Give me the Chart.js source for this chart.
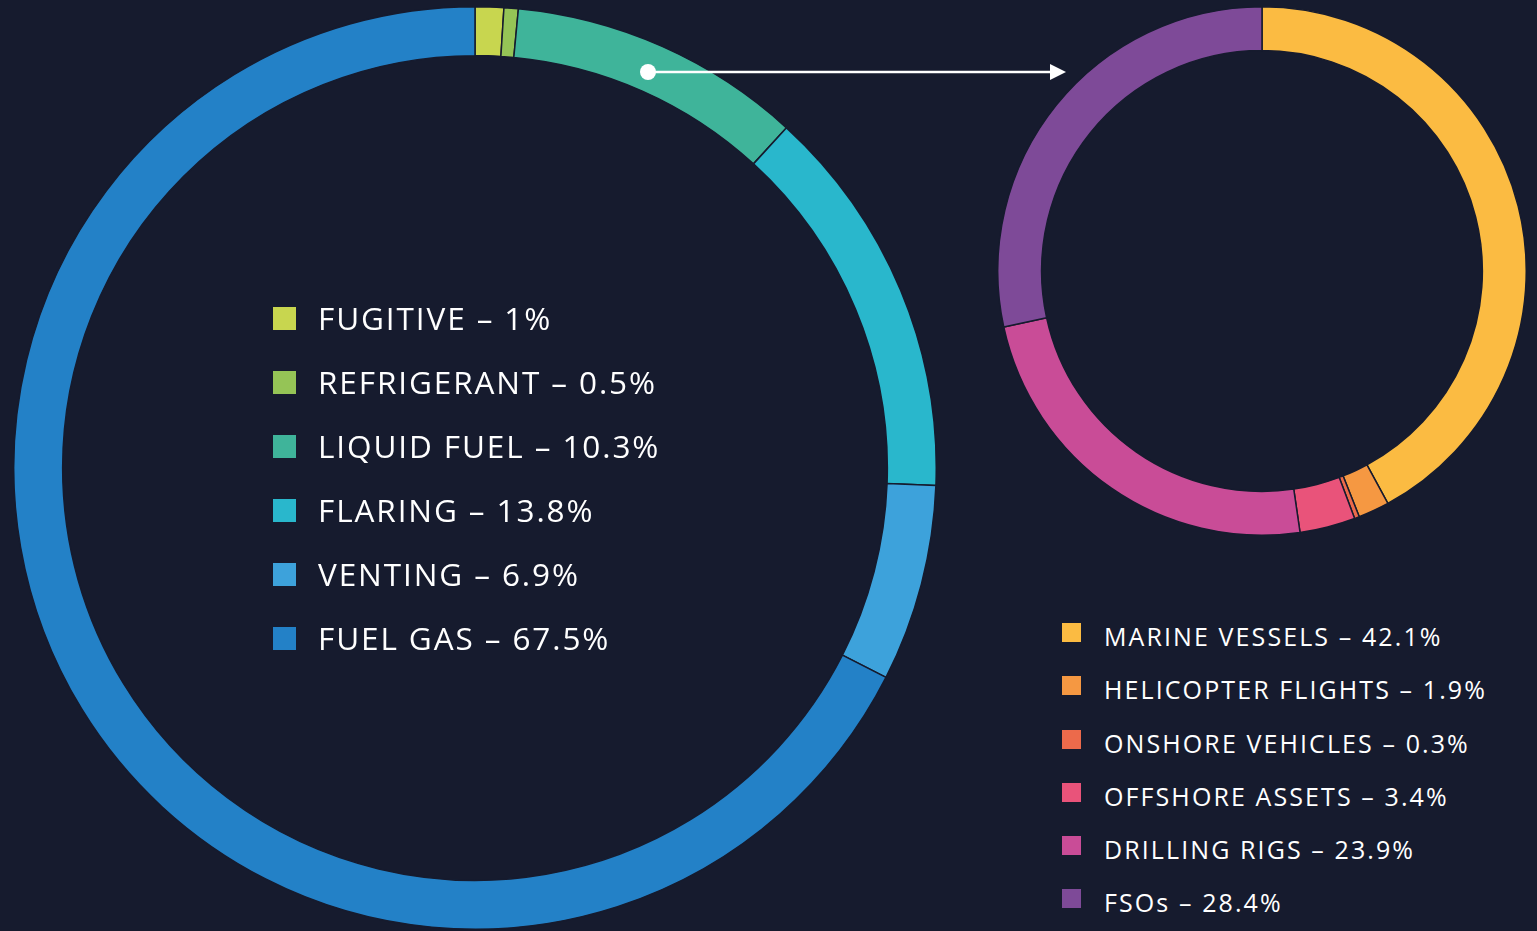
<!DOCTYPE html>
<html>
<head>
<meta charset="utf-8">
<script src="https://cdn.jsdelivr.net/npm/chart.js@4/dist/chart.umd.min.js"></script>
<style>
  html, body { margin: 0; padding: 0; background: #161b2e; }
  body { width: 1537px; height: 931px; position: relative; overflow: hidden; font-family: "Open Sans", sans-serif; color: #fff; }
  canvas { position: absolute; }
  #big { left: 13px; top: 6px; }
  #small { left: 997px; top: 6px; }
  .legend { position: absolute; margin: 0; padding: 0; list-style: none; }
  .legend li { position: relative; white-space: nowrap; }
  .legend span.sw { position: absolute; left: 0; }
  #bigLegend { left: 273px; top: 299px; font-size: 31.5px; }
  #bigLegend li { height: 64px; line-height: 38px; padding-left: 45px; letter-spacing: 1.9px; }
  #bigLegend span.sw { width: 23px; height: 23px; top: 8px; }
  #smallLegend { left: 1062px; top: 621px; font-size: 25px; }
  #smallLegend li { height: 53.3px; line-height: 30px; padding-left: 42px; letter-spacing: 2.1px; }
  #smallLegend span.sw { width: 19px; height: 19px; top: 2px; }
  #arrow { position: absolute; left: 0; top: 0; }
</style>
</head>
<body>
<canvas id="big" width="924" height="924"></canvas>
<canvas id="small" width="530" height="530"></canvas>
<ul class="legend" id="bigLegend"></ul>
<ul class="legend" id="smallLegend"></ul>
<svg id="arrow" width="1537" height="931">
  <circle cx="648" cy="72" r="8" fill="#fff"/>
  <line x1="648" y1="72" x2="1052" y2="72" stroke="#fff" stroke-width="2.5"/>
  <polygon points="1050,64 1066,72 1050,80" fill="#fff"/>
</svg>
<script>
const bg = '#161b2e'

const sourceLabels = ['FUGITIVE', 'REFRIGERANT', 'LIQUID FUEL', 'FLARING', 'VENTING', 'FUEL GAS']
const sourceValues = [1, 0.5, 10.3, 13.8, 6.9, 67.5]
const sourceColors = ['#c8d64f', '#95c456', '#3fb49a', '#29b7cc', '#3da2db', '#2381c7']

const fuelLabels = ['MARINE VESSELS', 'HELICOPTER FLIGHTS', 'ONSHORE VEHICLES', 'OFFSHORE ASSETS', 'DRILLING RIGS', 'FSOs']
const fuelValues = [42.1, 1.9, 0.3, 3.4, 23.9, 28.4]
const fuelColors = ['#fbbb42', '#f59842', '#ec6a4b', '#e9537a', '#c94c97', '#7e4a98']

function ring(id, labels, values, colors, cutout) {
  return new Chart(document.getElementById(id), {
    type: 'doughnut',
    data: {
      labels: labels,
      datasets: [{
        data: values,
        backgroundColor: colors,
        borderColor: bg,
        borderWidth: 1.5
      }]
    },
    options: {
      responsive: false,
      animation: false,
      cutout: cutout,
      layout: { padding: 0 },
      plugins: {
        legend: { display: false },
        tooltip: { enabled: false }
      }
    }
  })
}

ring('big', sourceLabels, sourceValues, sourceColors, '89.4%')
ring('small', fuelLabels, fuelValues, fuelColors, '83.4%')

// html legends, built from the same arrays
function legend(id, labels, values, colors) {
  const ul = document.getElementById(id)
  labels.forEach((l, i) => {
    const li = document.createElement('li')
    const sw = document.createElement('span')
    sw.className = 'sw'
    sw.style.background = colors[i]
    li.appendChild(sw)
    li.appendChild(document.createTextNode(l + ' \u2013 ' + values[i] + '%'))
    ul.appendChild(li)
  })
}
legend('bigLegend', sourceLabels, sourceValues, sourceColors)
legend('smallLegend', fuelLabels, fuelValues, fuelColors)
</script>
</body>
</html>
